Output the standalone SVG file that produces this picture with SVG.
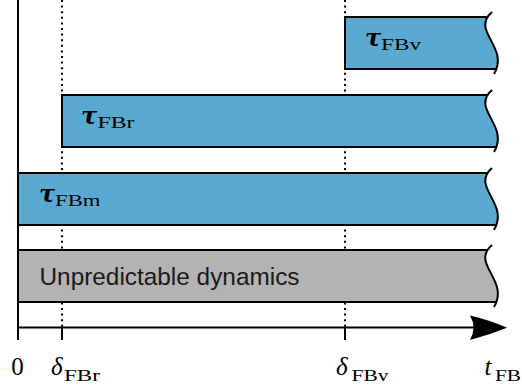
<svg xmlns="http://www.w3.org/2000/svg" width="522" height="389" viewBox="0 0 522 389">
  <style>
    .bar { stroke: #000; stroke-width: 2; }
    .blue { fill: #59a9d1; }
    .grey { fill: #b3b3b3; }
    .wave { fill: none; stroke: #000; stroke-width: 2; }
    .axis { fill: none; stroke: #000; stroke-width: 2; }
    .guide { fill: none; stroke: #000; stroke-width: 2; stroke-dasharray: 2 3.6; }
    .tau { font-family: "DejaVu Serif", serif; font-style: italic; font-weight: bold; font-size: 24px; fill: #000; }
    .sub { font-family: "Liberation Serif", serif; font-size: 17px; fill: #000; }
    .math { font-family: "Liberation Serif", serif; font-style: italic; font-size: 25px; fill: #000; }
    .num { font-family: "Liberation Serif", serif; font-size: 20px; fill: #000; }
    .sans { font-family: "Liberation Sans", sans-serif; font-size: 24.4px; fill: #1a1a1a; }
  </style>
  <defs>
    <!-- region left of the torn right edge, in bar-local coordinates -->
    <clipPath id="torn" clipPathUnits="userSpaceOnUse">
      <path d="M0,-5 H492 C470,14 510,30 494,57 H0 Z"/>
    </clipPath>
    <path id="tear" d="M492,-5 C470,14 510,30 494,57"/>
  </defs>

  <!-- dotted guides at the switching instants -->
  <g id="guides">
    <line class="guide" x1="62" y1="0" x2="62" y2="327"/>
    <line class="guide" x1="345" y1="0" x2="345" y2="327"/>
  </g>

  <!-- bars -->
  <g id="bar-fbv" transform="translate(0,17)">
    <rect class="bar blue" x="345" y="0" width="175" height="52" clip-path="url(#torn)"/>
    <use href="#tear" class="wave"/>
    <text class="tau" x="365" y="29">τ</text>
    <text class="sub" x="381" y="32.5" textLength="40" lengthAdjust="spacingAndGlyphs">FBv</text>
  </g>
  <g id="bar-fbr" transform="translate(0,95)">
    <rect class="bar blue" x="62" y="0" width="458" height="52" clip-path="url(#torn)"/>
    <use href="#tear" class="wave"/>
    <text class="tau" x="81" y="29">τ</text>
    <text class="sub" x="97.5" y="32.5" textLength="37" lengthAdjust="spacingAndGlyphs">FBr</text>
  </g>
  <g id="bar-fbm" transform="translate(0,173)">
    <rect class="bar blue" x="18" y="0" width="502" height="52" clip-path="url(#torn)"/>
    <use href="#tear" class="wave"/>
    <text class="tau" x="39" y="29">τ</text>
    <text class="sub" x="55" y="32.5" textLength="45.5" lengthAdjust="spacingAndGlyphs">FBm</text>
  </g>
  <g id="bar-unpredictable" transform="translate(0,250)">
    <rect class="bar grey" x="18" y="0" width="502" height="52" clip-path="url(#torn)"/>
    <use href="#tear" class="wave"/>
    <text class="sans" x="39.5" y="34.5" textLength="260" lengthAdjust="spacingAndGlyphs">Unpredictable dynamics</text>
  </g>

  <!-- time axis -->
  <g id="axes">
    <line class="axis" x1="18" y1="0" x2="18" y2="340"/>
    <line class="axis" x1="17" y1="327.5" x2="474" y2="327.5"/>
    <path d="M507,327.7 Q489,320 470,315.6 Q477,327.7 470,340 Q489,335 507,327.7 Z" fill="#000"/>
    <line class="axis" x1="62" y1="327" x2="62" y2="340"/>
    <line class="axis" x1="345" y1="327" x2="345" y2="340"/>
  </g>

  <!-- axis labels -->
  <g id="axis-labels">
    <text class="num" x="17.5" y="375" text-anchor="middle" style="font-size:25px">0</text>
    <text class="math" x="51" y="375">δ</text>
    <text class="sub" x="64" y="380.5" textLength="36" lengthAdjust="spacingAndGlyphs">FBr</text>
    <text class="math" x="336" y="375">δ</text>
    <text class="sub" x="351.5" y="380.5" textLength="37" lengthAdjust="spacingAndGlyphs">FBv</text>
    <text class="math" x="484.5" y="375">t</text>
    <text class="sub" x="495" y="380.5" textLength="26" lengthAdjust="spacingAndGlyphs">FB</text>
  </g>
</svg>
